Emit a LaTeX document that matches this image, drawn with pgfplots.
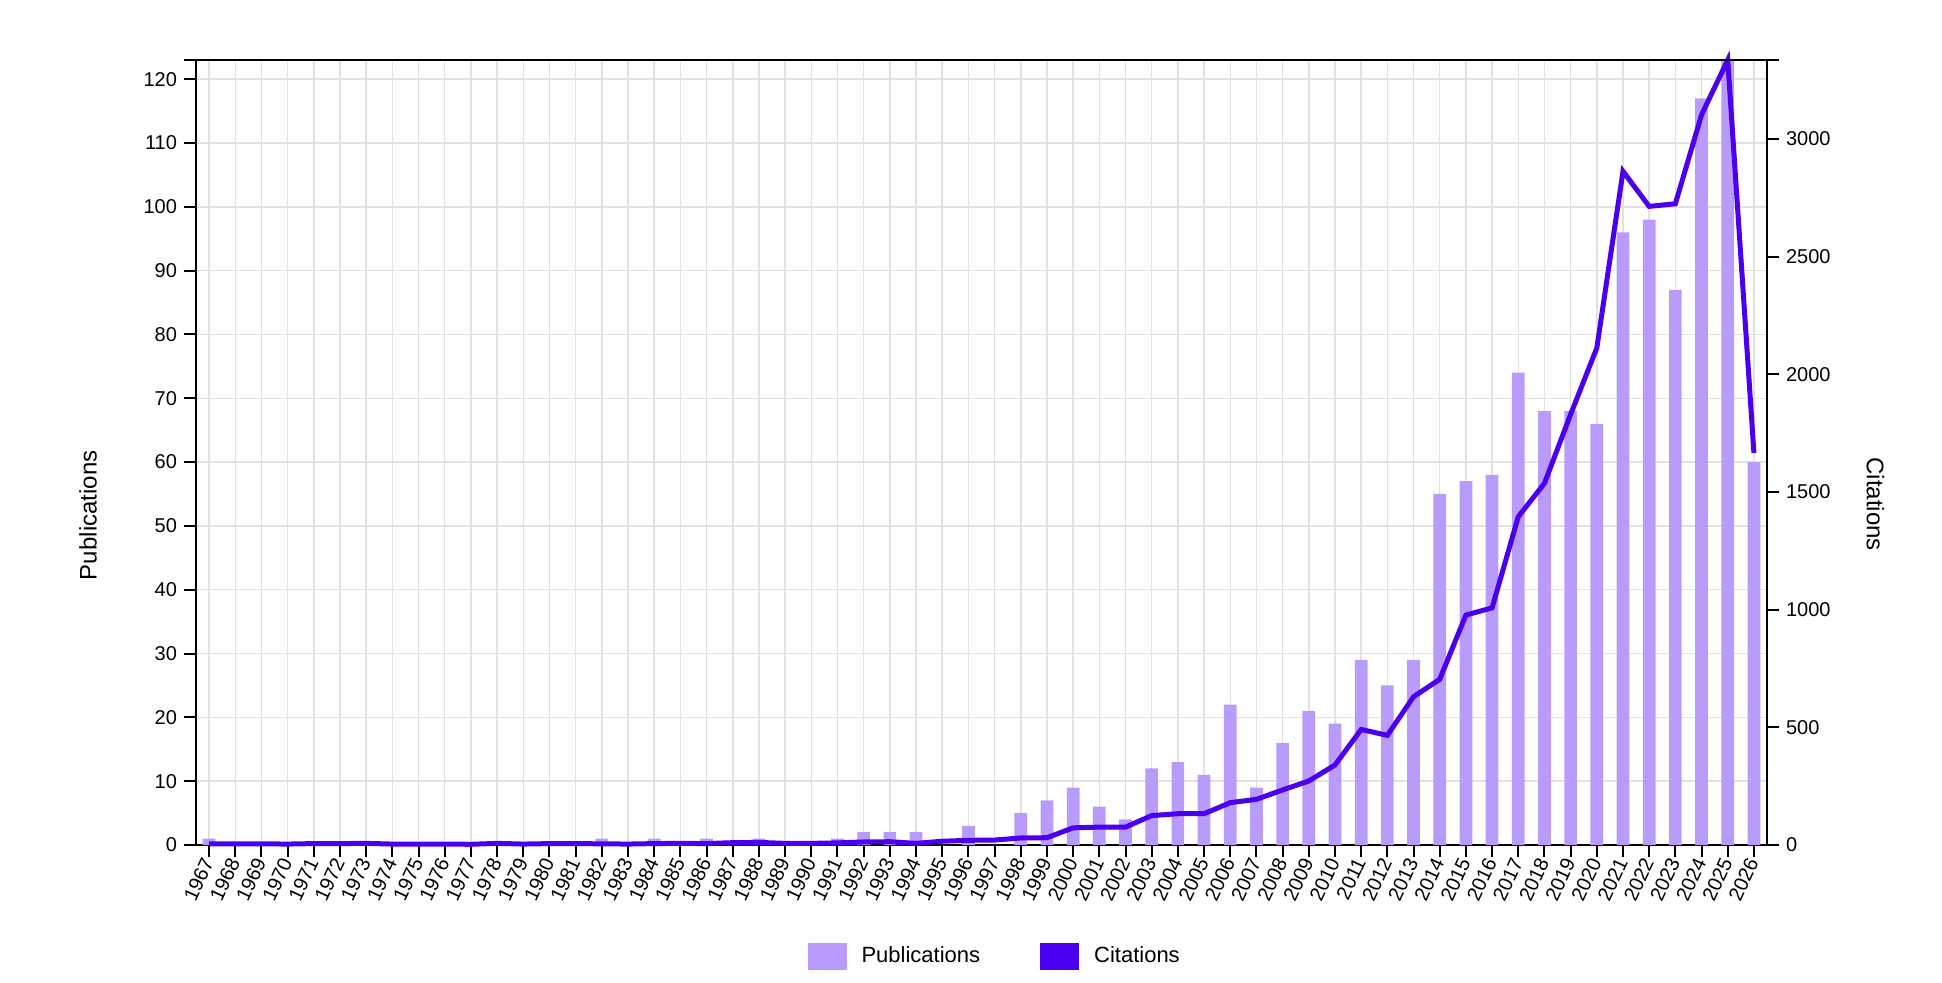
\documentclass[border=0pt]{standalone}
\usepackage{fontspec}
\setmainfont{Liberation Sans}
\usepackage{pgfplots}
\usepackage{pgfplotstable}
\pgfplotsset{compat=1.18}

\definecolor{barcol}{RGB}{185,155,252}
\definecolor{linecol}{RGB}{74,0,238}
\definecolor{gridcol}{RGB}{226,226,226}

% year, publications, citations
\pgfplotstableread{
year pubs cits
1967 1 5
1968 0 5
1969 0 5
1970 0 4
1971 0 6
1972 0 6
1973 0 7
1974 0 4
1975 0 4
1976 0 4
1977 0 3
1978 0 7
1979 0 4
1980 0 6
1981 0 6
1982 1 5
1983 0 4
1984 1 6
1985 0 7
1986 1 6
1987 0 10
1988 1 11
1989 0 7
1990 0 7
1991 1 9
1992 2 13
1993 2 14
1994 2 7
1995 0 16
1996 3 20
1997 0 21
1998 5 30
1999 7 31
2000 9 73
2001 6 76
2002 4 76
2003 12 125
2004 13 133
2005 11 133
2006 22 180
2007 9 194
2008 16 234
2009 21 272
2010 19 340
2011 29 491
2012 25 466
2013 29 630
2014 55 704
2015 57 977
2016 58 1008
2017 74 1395
2018 68 1537
2019 68 1830
2020 66 2112
2021 96 2863
2022 98 2714
2023 87 2725
2024 117 3103
2025 123 3336
2026 60 1666
}\data

\pgfplotsset{
  common/.style={
    at={(98pt,68.5pt)}, anchor=south west,
    scale only axis, width=785.5pt, height=392.5pt,
    xmin=1966.5, xmax=2026.5, ymin=0,
    tick align=outside, major tick length=6pt,
    every tick/.style={black, line width=1pt},
    axis line style={black, line width=1pt},
    /pgf/number format/assume math mode=true,
    /pgf/number format/1000 sep={},
    ticklabel style={font=\fontsize{10}{12}\selectfont},
    label style={font=\fontsize{12}{14}\selectfont},
  },
  swatch/.style={legend image code/.code={
    \fill[#1, draw=none] (0pt,-6.75pt) rectangle (19.5pt,6.75pt);
    \path[draw=none, fill=none] (0pt,0pt) -- (25pt,0pt);}},
}

\begin{document}
\begin{tikzpicture}
\path[use as bounding box] (0,0) rectangle (971pt,491pt);

\begin{axis}[
  common, name=ax1,
  ymax=123,
  ybar, bar width=0.485,
  axis x line*=bottom, axis y line*=left,
  xtick=data,
  xticklabel={\pgfmathprintnumber[fixed,precision=0,1000 sep={}]{\tick}},
  ytick={0,10,...,120},
  xmajorgrids, ymajorgrids,
  major grid style={gridcol, line width=0.75pt},
  xticklabel style={rotate=65, anchor=east, inner sep=1pt},
  ylabel={Publications},
  ylabel style={at={(axis description cs:-0.0687,0.42)}, anchor=center},
]
\addplot[fill=barcol, draw=none] table[x=year, y=pubs] {\data};
\end{axis}

\begin{axis}[
  common,
  ymax=3336,
  axis x line=none, axis y line*=right,
  ytick={0,500,...,3000},
  yticklabel style={anchor=west},
  ylabel={Citations},
  ylabel style={at={(axis description cs:1.069,0.434)}, anchor=center, rotate=180},
  clip=false,
  legend style={at={(axis description cs:0.509,-0.1414)}, anchor=center,
    draw=none, fill=none, legend columns=2,
    font=\fontsize{11}{13}\selectfont,
    /tikz/every even column/.append style={column sep=28pt}},
  legend cell align=left,
]
\addplot[linecol, line width=2.5pt, forget plot] table[x=year, y=cits] {\data};
\addlegendimage{swatch=barcol}
\addlegendentry{Publications}
\addlegendimage{swatch=linecol}
\addlegendentry{Citations}
\end{axis}

\draw[black, line width=1pt] ([xshift=-6pt]ax1.north west) -- ([xshift=6pt]ax1.north east);
\end{tikzpicture}
\end{document}
